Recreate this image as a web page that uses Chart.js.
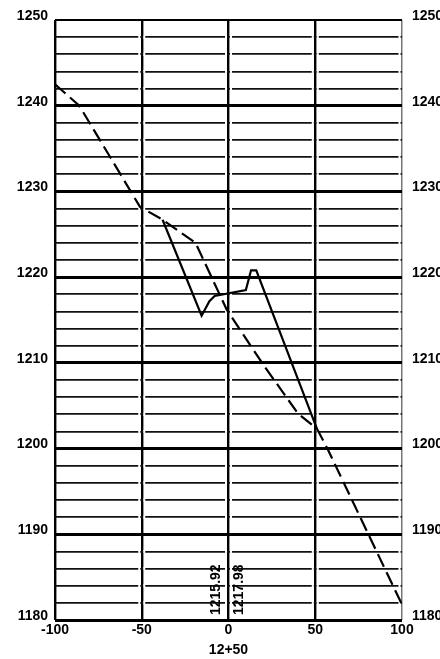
<!DOCTYPE html>
<html>
<head>
<meta charset="utf-8">
<script src="https://cdn.jsdelivr.net/npm/chart.js@4"></script>
<style>
  html, body { margin: 0; padding: 0; background: #fff; }
  #canvas-chart { width: 440px; height: 659px; }
</style>
</head>
<body>
<div id="canvas-chart"><canvas id="myChart" width="440" height="659"></canvas></div>
<script>
// existing ground (dashed)
const groundX = [-100, -86, -51, -38, -19, -1, 20, 40, 51, 57, 100];
const groundY = [1242.5, 1240, 1228.2, 1226.7, 1224, 1216.2, 1209.8, 1204.1, 1202.3, 1200, 1181.8];

// proposed section (solid)
const profileX = [-38, -15.5, -11, -8, 10, 13, 16, 51];
const profileY = [1226.7, 1215.5, 1217.2, 1217.8, 1218.5, 1220.8, 1220.8, 1202.3];

// axes
const xTicks = [-100, -50, 0, 50, 100];
const yMin = 1180;
const yMax = 1250;
const yStep = 2;
const yLabelStep = 10;
const stationName = "12+50";
const stationValues = ["1215.92", "1217.98"];

const FONT = '"Liberation Sans", Arial, Helvetica, sans-serif';

function toPoints(xs, ys) {
  return xs.map((x, i) => ({ x: x, y: ys[i] }));
}

/* small breaks in the minor lines next to the verticals, like the paper grid */
const gridBreaks = {
  id: "gridBreaks",
  beforeDatasetsDraw(chart) {
    const { ctx, scales } = chart;
    ctx.save();
    ctx.fillStyle = "#fff";
    scales.y.ticks.forEach((t) => {
      if (t.value % yLabelStep === 0) return;
      const py = scales.y.getPixelForValue(t.value);
      xTicks.forEach((v) => {
        if (v === -100) return;
        const px = scales.x.getPixelForValue(v);
        ctx.fillRect(px - 3.5, py - 1.5, 2, 3);
        if (v !== 100) ctx.fillRect(px + 1.5, py - 1.5, 2, 3);
      });
    });
    ctx.restore();
  },
};

/* Rotated elevation labels at station 0 */
const stationLabels = {
  id: "stationLabels",
  afterDatasetsDraw(chart) {
    const { ctx, scales } = chart;
    const px = scales.x.getPixelForValue(0);
    const bottom = scales.y.getPixelForValue(yMin);
    ctx.save();
    ctx.font = "bold 14px " + FONT;
    ctx.fillStyle = "#000";
    ctx.textBaseline = "middle";
    ctx.textAlign = "left";
    stationValues.forEach((t, i) => {
      ctx.save();
      ctx.translate(px + (i === 0 ? -12 : 11), bottom - 5);
      ctx.rotate(-Math.PI / 2);
      ctx.fillText(t, 0, 0);
      ctx.restore();
    });
    ctx.restore();
  },
};

const yTickOpts = {
  stepSize: yStep,
  color: "#000",
  font: { family: FONT, size: 14, weight: "bold" },
  labelOffset: -4,
  autoSkip: false,
  callback: (v) => (v % yLabelStep === 0 ? String(v) : ""),
};

const data = {
  datasets: [
    {
      label: "ground",
      data: toPoints(groundX, groundY),
      borderColor: "#000",
      borderWidth: 2.2,
      borderDash: [14, 6],
      pointRadius: 0,
      tension: 0,
      fill: false,
    },
    {
      label: "section",
      data: toPoints(profileX, profileY),
      borderColor: "#000",
      borderWidth: 2.2,
      pointRadius: 0,
      tension: 0,
      fill: false,
    },
  ],
};

const config = {
  type: "line",
  data: data,
  plugins: [gridBreaks, stationLabels],
  options: {
    responsive: false,
    animation: false,
    layout: { padding: { top: 20, left: 0, right: 0, bottom: 0 } },
    plugins: { legend: { display: false }, tooltip: { enabled: false } },
    scales: {
      x: {
        type: "linear",
        min: -100,
        max: 100,
        afterBuildTicks: (scale) => {
          scale.ticks = xTicks.map((v) => ({ value: v }));
        },
        afterFit: (scale) => {
          scale.height = 39;
        },
        ticks: {
          color: "#000",
          font: { family: FONT, size: 14, weight: "bold" },
          padding: 2,
          maxRotation: 0,
        },
        grid: {
          drawTicks: false,
          color: (c) => (c.tick && c.tick.value === 100 ? "#777" : "#000"),
          lineWidth: (c) => (c.tick && c.tick.value === 100 ? 1.5 : 2.4),
        },
        border: { display: false },
        title: {
          display: true,
          text: stationName,
          color: "#000",
          font: { family: FONT, size: 14, weight: "bold" },
          padding: 0,
        },
      },
      y: {
        type: "linear",
        position: "left",
        min: yMin,
        max: yMax,
        afterFit: (scale) => {
          scale.width = 55;
        },
        ticks: Object.assign({ padding: 7 }, yTickOpts),
        grid: {
          drawTicks: false,
          color: (c) => (c.tick && c.tick.value % yLabelStep === 0 ? "#000" : "#111"),
          lineWidth: (c) => {
            if (!c.tick) return 1.8;
            if (c.tick.value === yMax) return 2;
            return c.tick.value % yLabelStep === 0 ? 3 : 1.8;
          },
        },
        border: { display: false },
      },
      y2: {
        type: "linear",
        position: "right",
        min: yMin,
        max: yMax,
        afterFit: (scale) => {
          scale.width = 38;
        },
        ticks: Object.assign({ padding: 10 }, yTickOpts),
        grid: { display: false, drawTicks: false },
        border: { display: false },
      },
    },
  },
};

let myChart = new Chart(document.getElementById("myChart"), config);
</script>
</body>
</html>
